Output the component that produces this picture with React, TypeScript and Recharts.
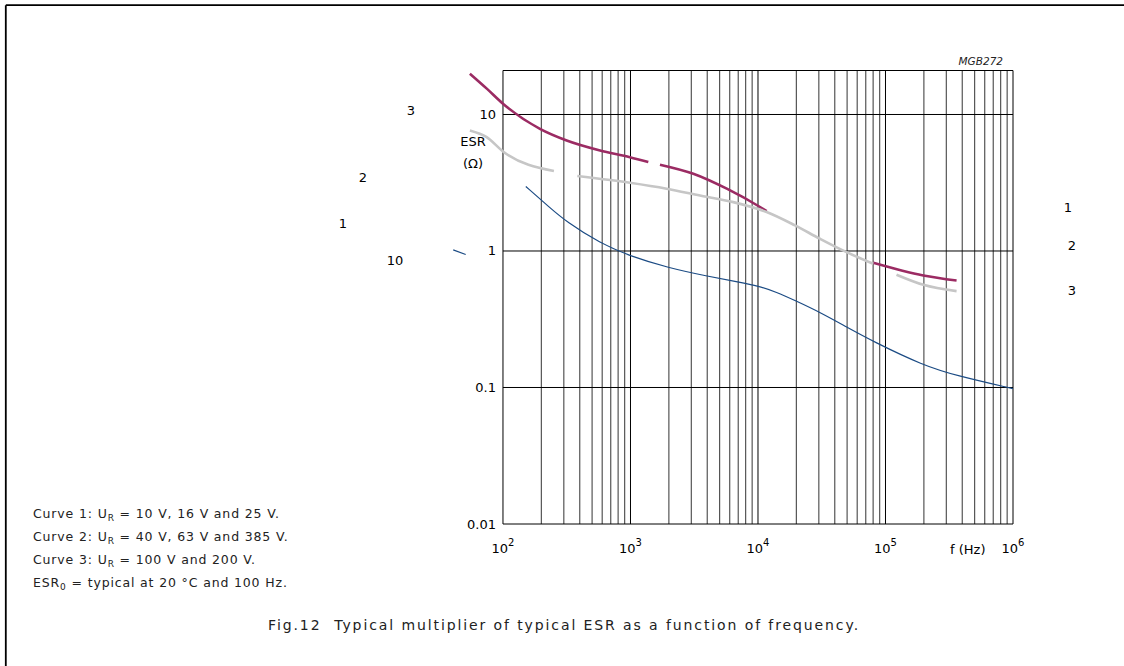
import { LineChart, Line, XAxis, YAxis, ReferenceLine } from 'recharts';

// frequency (Hz) and ESR multiplier; null = gap in the printed curve
const curve1Freq = [151, 230, 316, 577, 990, 1980, 3960, 7230, 10000, 14000, 19500, 30600, 49600, 80200, 198000, 361000, 1000000];
const curve1Esr = [2.97, 2.1, 1.63, 1.14, 0.918, 0.753, 0.655, 0.59, 0.555, 0.5, 0.434, 0.356, 0.277, 0.217, 0.145, 0.122, 0.098];

const curve2Freq = [55, 74.5, 100, 251, 300, 383, 990, 1920, 3510, 6400, 11700, 19500, 30600, 49600, 80200, 100000, 122000, 198000, 361000];
const curve2Esr = [7.64, 6.82, 5.36, 3.85, null, 3.54, 3.16, 2.86, 2.55, 2.28, 1.93, 1.54, 1.23, 0.98, 0.805, null, 0.67, 0.565, 0.508];

const curve3Freq = [55, 75, 100, 195, 316, 577, 990, 1380, 1500, 1703, 3110, 5690, 10380, 11700, 40000, 80200, 198000, 361000];
const curve3Esr = [19.9, 15.4, 12.0, 7.85, 6.45, 5.45, 4.87, 4.48, null, 4.29, 3.68, 2.86, 2.1, 1.96, null, 0.82, 0.662, 0.608];

// small stray stroke left of the axis
const strayFreq = [40.7, 51];
const strayEsr = [1.02, 0.943];

const freqTicks = [100, 1000, 10000, 100000, 1000000];
const esrTicks = [0.01, 0.1, 1, 10];
const esrTickLabels = ['0.01', '0.1', '1', '10'];
const gridFreqs = [2, 3, 4, 5, 6, 7, 8, 9].flatMap((m) => [100, 1000, 10000, 100000].map((d) => m * d));
const hLines = [0.01, 0.1, 1, 10, 21];

const leftLabels = [
  { t: '3', x: 411, y: 115 },
  { t: '2', x: 363, y: 182 },
  { t: '1', x: 343, y: 228 },
  { t: '10', x: 395, y: 265 },
];
const rightLabels = [
  { t: '1', x: 1068, y: 212 },
  { t: '2', x: 1072, y: 250 },
  { t: '3', x: 1072, y: 295 },
];
const notes = [
  ['Curve 1: U', 'R', ' = 10 V, 16 V and 25 V.'],
  ['Curve 2: U', 'R', ' = 40 V, 63 V and 385 V.'],
  ['Curve 3: U', 'R', ' = 100 V and 200 V.'],
  ['ESR', '0', ' = typical at 20 \u00B0C and 100 Hz.'],
];

const toRows = (fs: number[], vs: (number | null)[]) => fs.map((f, i) => ({ f, esr: vs[i] }));

const FONT = '"DejaVu Sans", "Liberation Sans", Arial, sans-serif';

const XTick = (p: any) => {
  const exp = Math.round(Math.log10(p.payload.value));
  return (
    <text x={p.x} y={553} textAnchor="middle" fontFamily={FONT} fontSize={13} fill="#000">
      10<tspan dy={-7} fontSize={10}>{exp}</tspan>
    </text>
  );
};

const YTick = (p: any) => {
  const i = esrTicks.indexOf(p.payload.value);
  return (
    <text x={496} y={p.y} dy={4.5} textAnchor="end" fontFamily={FONT} fontSize={13} fill="#000">
      {esrTickLabels[i]}
    </text>
  );
};

export default function App() {
  return (
    <div style={{ position: 'absolute', left: 0, top: 0, width: 1124, height: 666, background: '#fff' }}>
      <LineChart width={1124} height={666} margin={{ top: 70.5, right: 111, bottom: 112, left: 389.4 }}>
        <XAxis
          dataKey="f"
          type="number"
          scale="log"
          domain={[38, 1000000]}
          ticks={freqTicks}
          allowDataOverflow
          axisLine={false}
          tickLine={false}
          height={30}
          tick={<XTick />}
          interval={0}
        />
        <YAxis
          type="number"
          scale="log"
          domain={[0.01, 21]}
          ticks={esrTicks}
          allowDataOverflow
          axisLine={false}
          tickLine={false}
          width={60}
          tick={<YTick />}
          interval={0}
        />
        {gridFreqs.map((f) => (
          <ReferenceLine key={'g' + f} x={f} stroke="#555" strokeWidth={1.2} />
        ))}
        {freqTicks.map((f) => (
          <ReferenceLine key={'d' + f} x={f} stroke="#000" strokeWidth={1} />
        ))}
        {hLines.map((v) => (
          <ReferenceLine
            key={'h' + v}
            segment={[{ x: 100, y: v }, { x: 1000000, y: v }]}
            stroke="#000"
            strokeWidth={1}
          />
        ))}
        <Line data={toRows(curve3Freq, curve3Esr)} dataKey="esr" type="monotone" stroke="#9b2b63" strokeWidth={2.6} dot={false} isAnimationActive={false} />
        <Line data={toRows(curve2Freq, curve2Esr)} dataKey="esr" type="monotone" stroke="#c6c6c6" strokeWidth={2.6} dot={false} isAnimationActive={false} />
        <Line data={toRows(curve1Freq, curve1Esr)} dataKey="esr" type="basis" stroke="#1b4b84" strokeWidth={1.2} dot={false} isAnimationActive={false} />
        <Line data={toRows(strayFreq, strayEsr)} dataKey="esr" type="linear" stroke="#1b4b84" strokeWidth={1.2} dot={false} isAnimationActive={false} />
      </LineChart>
      <svg width={1124} height={666} style={{ position: 'absolute', left: 0, top: 0, pointerEvents: 'none' }} fontFamily={FONT}>
        <line x1={5.8} y1={5.2} x2={1124} y2={5.2} stroke="#000" strokeWidth={1.8} />
        <line x1={5.8} y1={5.2} x2={5.8} y2={666} stroke="#000" strokeWidth={1.8} />
        <text x={1003} y={65} textAnchor="end" fontSize={10.5} fontStyle="italic" fill="#222">MGB272</text>
        <text x={473} y={146} textAnchor="middle" fontSize={13}>ESR</text>
        <text x={473} y={168} textAnchor="middle" fontSize={13}>(Ω)</text>
        <text x={950} y={554} fontSize={13}>f  (Hz)</text>
        {leftLabels.map((l) => (
          <text key={'l' + l.t + l.y} x={l.x} y={l.y} textAnchor="middle" fontSize={13}>{l.t}</text>
        ))}
        {rightLabels.map((l) => (
          <text key={'r' + l.t} x={l.x} y={l.y} textAnchor="middle" fontSize={13}>{l.t}</text>
        ))}
        {notes.map((n, i) => (
          <text key={'n' + i} x={33} y={518 + i * 23} fontSize={12.5} letterSpacing={0.85} fill="#222">
            {n[0]}
            <tspan dy={3} fontSize={9}>{n[1]}</tspan>
            <tspan dy={-3}>{n[2]}</tspan>
          </text>
        ))}
        <text x={564} y={630} textAnchor="middle" fontSize={14} letterSpacing={1.9} fill="#222" xmlSpace="preserve">
          {'Fig.12  Typical multiplier of typical ESR as a function of frequency.'}
        </text>
      </svg>
    </div>
  );
}
